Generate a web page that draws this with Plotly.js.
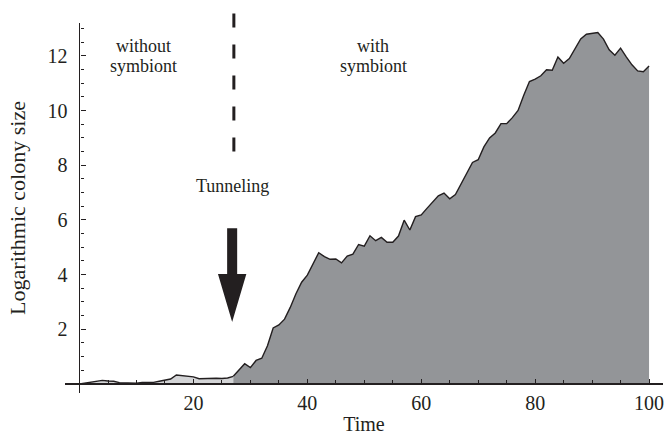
<!DOCTYPE html>
<html><head><meta charset="utf-8">
<script src="https://cdn.plot.ly/plotly-3.0.1.min.js"></script>
<style>html,body{margin:0;padding:0;background:#fff}#chart{width:665px;height:442px}</style>
</head><body><div id="chart"></div>
<script>
// ---- data ----
const timeBefore = [0,1,2,3,4,5,6,7,8,9,10,11,12,13,14,15,16,17,18,19,20,21,22,23,24,25,26,27];
const sizeBefore = [0,0.03,0.06,0.1,0.13,0.11,0.1,0.05,0.04,0.03,0.03,0.06,0.06,0.06,0.1,0.15,0.18,0.33,0.3,0.28,0.26,0.19,0.2,0.21,0.21,0.2,0.22,0.28];
const timeAfter = [27,28,29,30,31,32,33,34,35,36,37,38,39,40,41,42,43,44,45,46,47,48,49,50,51,52,53,54,55,56,57,58,59,60,61,62,63,64,65,66,67,68,69,70,71,72,73,74,75,76,77,78,79,80,81,82,83,84,85,86,87,88,89,90,91,92,93,94,95,96,97,98,99,100];
const sizeAfter = [0.28,0.5,0.74,0.6,0.86,0.94,1.4,2.05,2.16,2.37,
  2.8,3.3,3.72,3.98,4.38,4.8,4.66,4.56,4.57,4.43,
  4.68,4.75,5.1,5.04,5.42,5.24,5.36,5.18,5.18,5.41,
  5.99,5.63,6.12,6.18,6.42,6.66,6.88,6.98,6.77,6.93,
  7.33,7.73,8.1,8.2,8.67,9.0,9.18,9.52,9.52,9.74,
  10.0,10.56,11.06,11.15,11.27,11.49,11.47,11.96,11.73,11.9,
  12.28,12.62,12.79,12.82,12.85,12.61,12.22,12.02,12.28,11.96,
  11.67,11.45,11.42,11.63];
const xTickVals = [20,40,60,80,100];
const yTickVals = [2,4,6,8,10,12];
const xTitle = 'Time';
const yTitle = 'Logarithmic colony size';
const labelWithout = ['without','symbiont'];
const labelWith = ['with','symbiont'];
const labelTunnel = 'Tunneling';

// ---- layout constants ----
const xRange = [-2.55, 102.45];
const yRange = [-0.33, 13.2];
const ink = '#231f20';
const serif = 'Liberation Serif, Times New Roman, serif';
const tunnelX = 27.1;
const dashTop = 13.61, dashBottom = 8.5;
const arrowX = 26.8, shaftHalf = 0.88, headHalf = 2.49;
const arrowTop = 5.69, arrowNeck = 4.02, arrowTip = 2.27;

const toPaperX = v => (v - xRange[0]) / (xRange[1] - xRange[0]);
const toPaperY = v => (v - yRange[0]) / (yRange[1] - yRange[0]);

const traces = [
  {x: timeBefore, y: sizeBefore, type: 'scatter', mode: 'lines', fill: 'tozeroy',
   fillcolor: '#d3d4d6', line: {color: ink, width: 1.4}, hoverinfo: 'skip'},
  {x: timeAfter, y: sizeAfter, type: 'scatter', mode: 'lines', fill: 'tozeroy',
   fillcolor: '#939598', line: {color: ink, width: 1.4}, hoverinfo: 'skip'}
];

const arrowPath = `M ${arrowX-shaftHalf},${arrowTop} L ${arrowX+shaftHalf},${arrowTop} L ${arrowX+shaftHalf},${arrowNeck} L ${arrowX+headHalf},${arrowNeck} L ${arrowX},${arrowTip} L ${arrowX-headHalf},${arrowNeck} L ${arrowX-shaftHalf},${arrowNeck} Z`;

const annFont = {family: serif, size: 18, color: ink};
const annotations = [
  {x: 11.15, y: 12.35, text: labelWithout[0]},
  {x: 11.15, y: 11.64, text: labelWithout[1]},
  {x: 51.6, y: 12.35, text: labelWith[0]},
  {x: 51.6, y: 11.64, text: labelWith[1]},
  {x: 26.8, y: 7.24, text: labelTunnel}
].map(a => Object.assign({xref: 'x', yref: 'y', showarrow: false, font: annFont,
  xanchor: 'center', yanchor: 'middle'}, a));

const layout = {
  width: 665, height: 442,
  margin: {l: 65, r: 2, t: 23, b: 49},
  paper_bgcolor: '#fff', plot_bgcolor: '#fff',
  showlegend: false,
  font: {family: serif, color: ink},
  xaxis: {
    range: xRange, anchor: 'free', position: toPaperY(0),
    showgrid: false, showline: false,
    zeroline: true, zerolinecolor: ink, zerolinewidth: 1.5,
    tickmode: 'array', tickvals: xTickVals, ticks: 'inside', ticklen: 5, tickwidth: 1, tickcolor: ink,
    minor: {tick0: 0, dtick: 5, ticks: 'inside', ticklen: 3.5, tickwidth: 1, tickcolor: ink, showgrid: false},
    tickfont: {family: serif, size: 20, color: ink},
    ticklabelstandoff: 5,
    title: {text: xTitle, font: {family: serif, size: 20, color: ink}, standoff: 4},
    layer: 'above traces', zerolinelayer: 'above traces', fixedrange: true
  },
  yaxis: {
    range: yRange, anchor: 'free', position: toPaperX(0),
    showgrid: false, showline: false,
    zeroline: true, zerolinecolor: ink, zerolinewidth: 1.5,
    tickmode: 'array', tickvals: yTickVals, ticks: 'inside', ticklen: 5, tickwidth: 1, tickcolor: ink,
    minor: {tick0: 0, dtick: 0.5, ticks: 'inside', ticklen: 3.5, tickwidth: 1, tickcolor: ink, showgrid: false},
    tickfont: {family: serif, size: 20, color: ink},
    ticklabelstandoff: 12,
    title: {text: yTitle, font: {family: serif, size: 22, color: ink}, standoff: 14},
    layer: 'above traces', zerolinelayer: 'above traces', fixedrange: true
  },
  shapes: [
    {type: 'line', xref: 'paper', yref: 'paper',
     x0: toPaperX(tunnelX), x1: toPaperX(tunnelX), y0: toPaperY(dashBottom), y1: toPaperY(dashTop),
     line: {color: ink, width: 3, dash: '14px,17px'}},
    {type: 'path', xref: 'x', yref: 'y', path: arrowPath, fillcolor: ink, line: {width: 0}}
  ],
  annotations: annotations
};

Plotly.newPlot('chart', traces, layout, {displayModeBar: false, staticPlot: true});
</script>
</body></html>
